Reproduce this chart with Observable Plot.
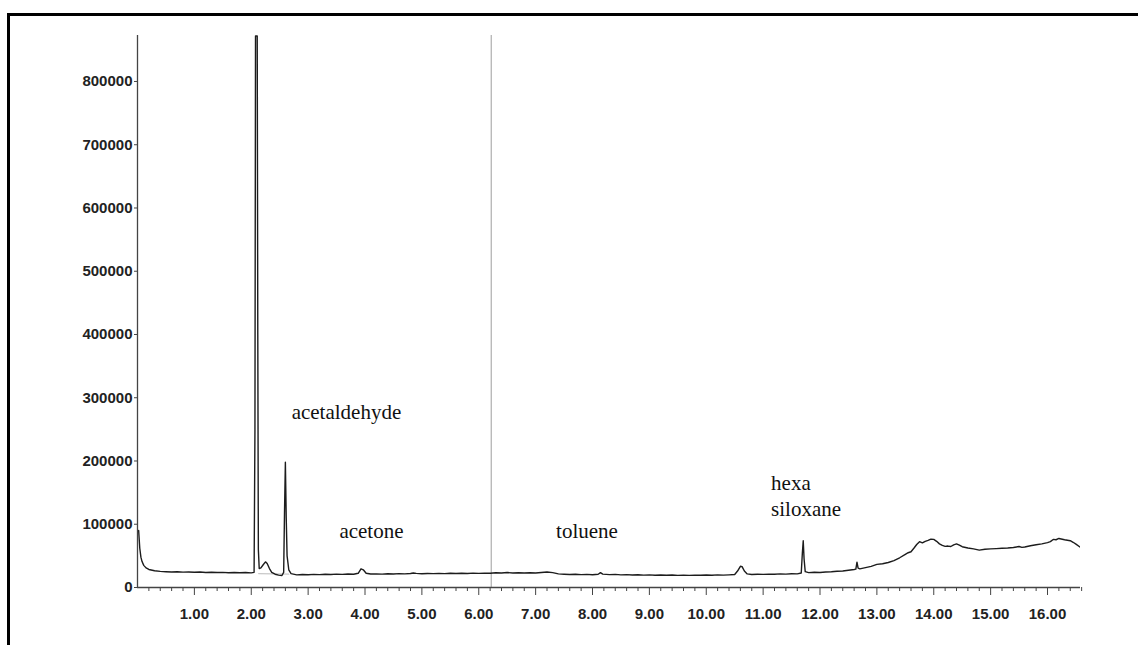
<!DOCTYPE html>
<html><head><meta charset="utf-8">
<script src="https://cdn.jsdelivr.net/npm/d3@7"></script>
<script src="https://cdn.jsdelivr.net/npm/@observablehq/plot@0.6"></script>
<style>
html,body{margin:0;padding:0;background:#fff;overflow:hidden;}
#wrap{position:relative;width:1138px;height:645px;}
#frame{position:absolute;left:7px;top:13px;right:0;bottom:-5px;border-top:3px solid #000;border-left:3px solid #000;pointer-events:none;}
#chart{position:absolute;left:0;top:0;}
</style></head><body>
<div id="wrap"><div id="chart"></div><div id="frame"></div></div>
<script>
// Retention time (min)
const times = [0.02,0.04,0.06,0.08,0.11,0.15,0.2,0.3,0.4,0.5,0.6,0.7,0.8,0.9,1.0,1.1,1.2,1.3,1.4,1.5,1.6,1.7,1.8,1.9,2.0,2.05,2.065,2.075,2.105,2.115,2.125,2.14,2.17,2.21,2.25,2.28,2.32,2.36,2.42,2.48,2.54,2.57,2.585,2.6,2.615,2.63,2.66,2.7,2.8,2.9,3.0,3.1,3.2,3.3,3.4,3.5,3.6,3.7,3.8,3.88,3.93,3.97,4.02,4.1,4.2,4.3,4.4,4.5,4.6,4.7,4.8,4.85,4.9,5.0,5.1,5.2,5.3,5.4,5.5,5.6,5.7,5.8,5.9,6.0,6.1,6.2,6.3,6.4,6.5,6.6,6.7,6.8,6.9,7.0,7.1,7.2,7.3,7.4,7.5,7.6,7.7,7.8,7.9,8.0,8.1,8.14,8.18,8.3,8.4,8.5,8.6,8.7,8.8,8.9,9.0,9.1,9.2,9.3,9.4,9.5,9.6,9.7,9.8,9.9,10.0,10.1,10.2,10.3,10.4,10.5,10.55,10.6,10.63,10.67,10.72,10.8,10.9,11.0,11.1,11.2,11.3,11.4,11.5,11.6,11.67,11.69,11.705,11.72,11.74,11.8,11.9,12.0,12.1,12.2,12.3,12.4,12.5,12.6,12.63,12.65,12.67,12.7,12.8,12.9,13.0,13.1,13.2,13.3,13.4,13.5,13.55,13.6,13.65,13.7,13.75,13.8,13.85,13.9,13.95,14.0,14.05,14.1,14.15,14.2,14.25,14.3,14.35,14.4,14.45,14.5,14.6,14.7,14.8,14.9,15.0,15.1,15.2,15.3,15.4,15.5,15.55,15.6,15.7,15.8,15.9,16.0,16.05,16.1,16.15,16.2,16.3,16.4,16.45,16.5,16.57];
// Abundance
const signal = [90000,62000,48000,41000,35000,31000,28500,26500,25500,25000,24600,25000,24300,24600,24000,24400,23800,24100,23600,23900,23400,23800,23300,23600,23200,24000,250000,872000,872000,400000,60000,30000,31000,36000,40500,38000,30000,24000,21000,19500,19000,24000,120000,198000,110000,50000,28000,22000,20000,20500,20200,20800,20400,21000,20600,21200,20800,21300,21000,22500,29500,28000,22500,21300,21600,21200,21700,21400,21900,21500,22200,23000,22300,21800,22200,21900,22400,22000,22500,22100,22600,22200,22700,22400,22800,22500,23300,23000,23600,23000,23400,22900,23300,23000,23800,24600,23500,21500,21000,20600,21000,20400,20700,20200,21000,23500,21200,20300,20700,20000,20400,19700,20100,19500,19900,19400,19800,19300,19700,19200,19600,19200,19600,19300,19700,19400,19900,19500,20000,20500,26000,33500,33000,26000,21500,20500,21000,20700,21200,20900,21500,21200,21800,21600,23000,55000,74000,45000,25000,23500,24000,23800,24500,24800,25600,26000,27200,28500,29000,40000,30500,29500,31500,33500,36500,37500,39500,42500,47000,52500,55000,56500,62000,68000,72500,70500,73000,74500,76500,76000,73000,69000,66500,65000,65500,64800,67500,69000,67000,64500,62500,61000,59000,60500,61000,61500,62000,62500,63200,64800,63500,64000,66000,67500,69000,71000,72500,76000,75500,77500,75500,74000,71500,68500,64000];
// Integration baseline under the 2.2–2.6 min peaks
const baseTimes = [2.13, 2.66];
const baseValues = [22000, 21000];
// Marker line
const markerTime = [6.22];
// Peak labels
const labelNames = ["acetaldehyde","acetone","toluene","hexa","siloxane"];
const labelTimes = [2.71, 3.55, 7.36, 11.14, 11.14];
const labelValues = [267000, 79000, 79000, 153400, 113800];
// Axis ticks
const yTicks = [0,100000,200000,300000,400000,500000,600000,700000,800000];
const xMajor = [1,2,3,4,5,6,7,8,9,10,11,12,13,14,15,16];
const xMinor = d3.range(0.2, 16.61, 0.2).filter(v => Math.abs(v - Math.round(v)) > 0.01);

const xMax = 16.58, yTop = 872700;
const data = times.map((t, i) => ({t, v: signal[i]}));
const base = baseTimes.map((t, i) => ({t, v: baseValues[i]}));
const labels = labelNames.map((n, i) => ({n, t: labelTimes[i], v: labelValues[i]}));

const chart = Plot.plot({
  width: 1138, height: 645,
  marginLeft: 137, marginRight: 58, marginTop: 35, marginBottom: 58,
  x: {domain: [0, xMax], axis: null, label: null},
  y: {domain: [0, yTop], axis: null, label: null},
  style: {background: "transparent", color: "#222"},
  marks: [
    Plot.ruleX(markerTime, {y1: 0, y2: yTop, stroke: "#b4b4b4", strokeWidth: 1.3}),
    Plot.line(base, {x: "t", y: "v", stroke: "#c8c8c8", strokeWidth: 1.2}),
    Plot.line(data, {x: "t", y: "v", stroke: "#1c1c1c", strokeWidth: 1.4, clip: true}),
    Plot.ruleY([0], {x1: 0, x2: xMax, stroke: "#444", strokeWidth: 1.3}),
    Plot.ruleX([0], {y1: 0, y2: yTop, stroke: "#444", strokeWidth: 1.3}),
    Plot.axisY({ticks: yTicks, label: null, tickSize: 3, tickPadding: 2, tickFormat: d => String(d),
      fontSize: 15, fontWeight: "bold", fontFamily: "Liberation Sans, Arial, sans-serif", fill: "#222", stroke: "#444"}),
    Plot.axisX({ticks: xMajor, label: null, tickSize: 8, tickPadding: 13, tickFormat: d => d.toFixed(2),
      fontSize: 15, fontWeight: "bold", fontFamily: "Liberation Sans, Arial, sans-serif", fill: "#222", stroke: "#444"}),
    Plot.axisX({ticks: xMinor, label: null, tickSize: 4, tickFormat: () => "", stroke: "#444"}),
    Plot.text(labels, {x: "t", y: "v", text: "n", textAnchor: "start", lineAnchor: "bottom",
      fontFamily: "Liberation Serif, Times New Roman, serif", fontSize: 21, fill: "#111"})
  ]
});
document.getElementById("chart").appendChild(chart);
</script>
</body></html>
